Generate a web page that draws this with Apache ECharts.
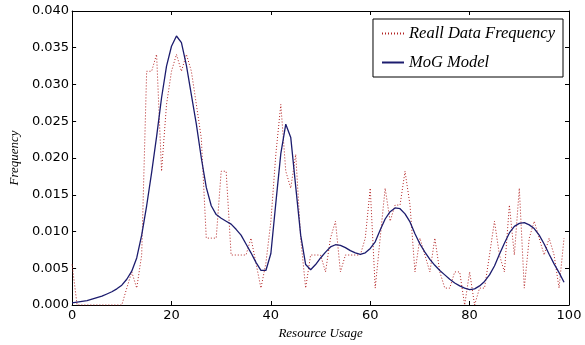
<!DOCTYPE html>
<html>
<head>
<meta charset="utf-8">
<script src="https://cdn.jsdelivr.net/npm/echarts@6/dist/echarts.min.js"></script>
<style>
  html, body { margin: 0; padding: 0; background: #fff; }
  #chart { width: 585px; height: 345px; }
</style>
</head>
<body>
<div id="chart"></div>
<script>
// resource usage bins 0..99, one value per bin
const realFrequency = [
  0.0055, 0, 0, 0, 0, 0, 0, 0, 0, 0,
  0, 0.0023, 0.0045, 0.0023, 0.0068, 0.0318, 0.0318, 0.0341, 0.0182, 0.0273,
  0.0318, 0.0341, 0.0318, 0.0341, 0.0318, 0.0273, 0.0227, 0.0091, 0.0091, 0.0091,
  0.0182, 0.0182, 0.0068, 0.0068, 0.0068, 0.0068, 0.0091, 0.0057, 0.0023, 0.0057,
  0.0114, 0.0205, 0.0273, 0.0182, 0.0159, 0.0205, 0.0091, 0.0023, 0.0068, 0.0068,
  0.0068, 0.0045, 0.0091, 0.0114, 0.0045, 0.0068, 0.0068, 0.0068, 0.0068, 0.0091,
  0.0159, 0.0023, 0.0091, 0.0159, 0.0114, 0.0136, 0.0136, 0.0182, 0.0136, 0.0045,
  0.0091, 0.0068, 0.0045, 0.0091, 0.0045, 0.0023, 0.0023, 0.0045, 0.0045, 0,
  0.0045, 0, 0.0023, 0.0023, 0.0068, 0.0114, 0.0068, 0.0045, 0.0136, 0.0068,
  0.0159, 0.0023, 0.0091, 0.0114, 0.0091, 0.0068, 0.0091, 0.0068, 0.0023, 0.0091
]

const mogModel = [
  0.0003, 0.0004, 0.0005, 0.0006, 0.0008, 0.0010, 0.0012, 0.0015, 0.0018, 0.0022,
  0.0027, 0.0035, 0.0046, 0.0064, 0.0095, 0.0135, 0.0180, 0.0229, 0.0282, 0.0325,
  0.0352, 0.0366, 0.0357, 0.0326, 0.0286, 0.0246, 0.0200, 0.0160, 0.0135, 0.0123,
  0.0118, 0.0114, 0.0110, 0.0103, 0.0095, 0.0083, 0.0071, 0.0058, 0.0047, 0.0047,
  0.0070, 0.0139, 0.0206, 0.0246, 0.0228, 0.0161, 0.0095, 0.0055, 0.0048, 0.0055,
  0.0064, 0.0072, 0.0079, 0.0082, 0.0081, 0.0078, 0.0074, 0.0071, 0.0069, 0.0071,
  0.0077, 0.0086, 0.0102, 0.0117, 0.0127, 0.0132, 0.0131, 0.0124, 0.0113, 0.0097,
  0.0083, 0.0072, 0.0062, 0.0054, 0.0047, 0.0041, 0.0035, 0.0030, 0.0026, 0.0023,
  0.0021, 0.0022, 0.0026, 0.0032, 0.0041, 0.0053, 0.0069, 0.0084, 0.0098, 0.0107,
  0.0111, 0.0112, 0.0109, 0.0104, 0.0095, 0.0083, 0.0069, 0.0056, 0.0044, 0.0031
]

const seriesNames = ['Reall Data Frequency', 'MoG Model']

const labelFont = { fontFamily: 'DejaVu Sans', fontSize: 13, color: '#000' }
const titleFont = { fontFamily: 'Liberation Serif', fontStyle: 'italic', fontSize: 13, color: '#000' }

const chart = echarts.init(document.getElementById('chart'))

const toPoints = (values) => values.map((v, i) => [i, v])

const spine = { show: true, onZero: false, lineStyle: { color: '#000', width: 1 } }
const tick = { show: true, inside: true, length: 4, lineStyle: { color: '#000' } }

const option = {
  animation: false,
  backgroundColor: '#fff',
  grid: { left: 68, right: 16, top: 11, bottom: 34 },
  legend: {
    data: seriesNames,
    orient: 'vertical',
    right: 22,
    top: 19,
    itemWidth: 22,
    itemHeight: 10,
    itemGap: 12,
    padding: [6, 8, 6, 8],
    borderColor: '#000',
    borderWidth: 1,
    itemStyle: { opacity: 0 },
    textStyle: { fontFamily: 'Liberation Serif', fontStyle: 'italic', fontSize: 16.5, color: '#000' }
  },
  xAxis: [
    {
      type: 'value',
      min: 0,
      max: 100,
      interval: 20,
      name: 'Resource Usage',
      nameLocation: 'middle',
      nameGap: 22,
      nameTextStyle: titleFont,
      axisLine: spine,
      axisTick: tick,
      axisLabel: Object.assign({ margin: 4 }, labelFont),
      splitLine: { show: false }
    },
    {
      type: 'value',
      position: 'top',
      min: 0,
      max: 100,
      interval: 20,
      axisLine: spine,
      axisTick: tick,
      axisLabel: { show: false },
      splitLine: { show: false }
    }
  ],
  yAxis: [
    {
      type: 'value',
      min: 0,
      max: 0.04,
      interval: 0.005,
      name: 'Frequency',
      nameLocation: 'middle',
      nameGap: 50,
      nameTextStyle: titleFont,
      axisLine: spine,
      axisTick: tick,
      axisLabel: Object.assign({ margin: 3, formatter: v => v.toFixed(3) }, labelFont),
      splitLine: { show: false }
    },
    {
      type: 'value',
      position: 'right',
      min: 0,
      max: 0.04,
      interval: 0.005,
      axisLine: spine,
      axisTick: tick,
      axisLabel: { show: false },
      splitLine: { show: false }
    }
  ],
  series: [
    {
      name: seriesNames[0],
      type: 'line',
      data: toPoints(realFrequency),
      symbol: 'none',
      lineStyle: { color: '#b22222', width: 1, type: [1, 2] },
      itemStyle: { color: '#b22222' }
    },
    {
      name: seriesNames[1],
      type: 'line',
      data: toPoints(mogModel),
      symbol: 'none',
      lineStyle: { color: '#1c1c6e', width: 1.3 },
      itemStyle: { color: '#1c1c6e' }
    }
  ]
}

chart.setOption(option)
</script>
</body>
</html>
